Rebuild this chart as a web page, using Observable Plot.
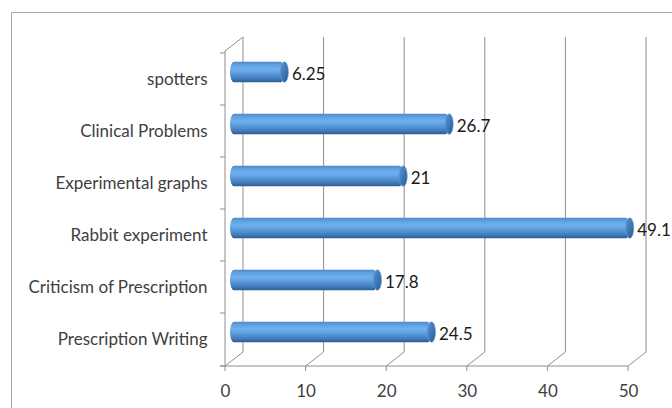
<!DOCTYPE html>
<html>
<head>
<meta charset="utf-8">
<script src="https://cdn.jsdelivr.net/npm/d3@7"></script>
<script src="https://cdn.jsdelivr.net/npm/@observablehq/plot@0.6"></script>
<style>
  html, body { margin: 0; padding: 0; background: #fff; }
  #chart { width: 672px; height: 408px; }
</style>
</head>
<body>
<div id="chart"></div>
<script>
const categories = ["spotters", "Clinical Problems", "Experimental graphs", "Rabbit experiment", "Criticism of Prescription", "Prescription Writing"];
const values = [6.25, 26.7, 21, 49.1, 17.8, 24.5];
const valueLabels = ["6.25", "26.7", "21", "49.1", "17.8", "24.5"];
const xTicks = [0, 10, 20, 30, 40, 50];

const data = categories.map((c, i) => ({cat: c, v: values[i], label: valueLabels[i]}));

const DX = 18, DY = -14;          // depth of the 3D box
const BDX = 9, BDY = -7;           // bars sit at mid-depth
const gridColor = "#8e8e8e";

function frame(index, scales, vals, dim) {
  const {x, y} = scales;
  const g = d3.create("svg:g");
  const defs = g.append("defs");
  const body = defs.append("linearGradient").attr("id", "cylBody").attr("x1", 0).attr("y1", 0).attr("x2", 0).attr("y2", 1);
  [[0, "#4b86c4"], [0.12, "#5e9ddd"], [0.35, "#6eb1ef"], [0.6, "#5998da"], [0.85, "#3f78b6"], [1, "#2c5b8f"]]
    .forEach(([o, c]) => body.append("stop").attr("offset", o).attr("stop-color", c));
  const cap = defs.append("linearGradient").attr("id", "cylCap").attr("x1", 0).attr("y1", 0).attr("x2", 1).attr("y2", 1);
  [[0, "#5a93cf"], [0.5, "#3e78b8"], [1, "#2b5c93"]]
    .forEach(([o, c]) => cap.append("stop").attr("offset", o).attr("stop-color", c));

  const top = dim.marginTop, bottom = dim.height - dim.marginBottom;
  const x0 = x(0);
  g.append("path").attr("d", `M11.5,${dim.height}V12.5H${dim.width}`).attr("fill", "none").attr("stroke", "#a6a6a6");
  for (const t of xTicks) {
    const px = x(t);
    g.append("path").attr("d", `M${px},${bottom}L${px + DX},${bottom + DY}V${top + DY}`)
      .attr("fill", "none").attr("stroke", gridColor);
    g.append("path").attr("d", `M${px},${bottom}V${bottom + 5}`).attr("stroke", gridColor);
  }
  g.append("path").attr("d", `M${x0},${bottom}V${top}L${x0 + DX},${top + DY}`).attr("fill", "none").attr("stroke", gridColor);
  g.append("path").attr("d", `M${x0 - 5},${bottom}H${x(50)}`).attr("stroke", gridColor);
  const bounds = categories.map(c => y(c));
  bounds.push(bottom);
  for (const b of bounds) {
    g.append("path").attr("d", `M${x0 - 5},${b}H${x0}`).attr("stroke", gridColor);
  }
  return g.node();
}

const bandH = 52.5, barH = 21, inset = (bandH - barH) / 2;

const plot = Plot.plot({
  width: 672,
  height: 408,
  marginLeft: 225,
  marginRight: 44,
  marginTop: 51,
  marginBottom: 42,
  style: {fontFamily: "Lato, 'Open Sans', sans-serif", fontSize: "17px", color: "#404040", background: "#fff"},
  x: {domain: [0, 50], ticks: xTicks, tickSize: 0, tickPadding: 18, label: null},
  y: {domain: categories, padding: 0, tickSize: 0, tickPadding: 18, label: null},
  marks: [
    frame,
    Plot.barX(data, {y: "cat", x1: 0, x2: "v", dx: BDX, dy: BDY, insetTop: inset, insetBottom: inset, insetLeft: -4,
      rx: 4, ry: barH / 2, fill: "url(#cylBody)"}),
    Plot.barX(data, {y: "cat", x1: "v", x2: "v", dx: BDX, dy: BDY, insetTop: inset, insetBottom: inset, insetLeft: -4, insetRight: -4,
      rx: 4, ry: barH / 2, fill: "url(#cylCap)", stroke: "#5f97d1", strokeWidth: 0.6}),
    Plot.text(data, {y: "cat", x: "v", text: "label", dx: 16, dy: BDY + 2, textAnchor: "start", fill: "#1a1a1a", fontSize: 17})
  ]
});
document.getElementById("chart").appendChild(plot);
</script>
</body>
</html>
